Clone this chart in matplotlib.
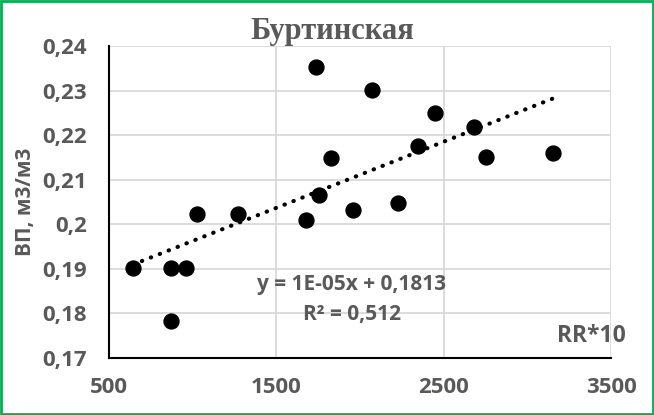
import numpy as np
import matplotlib
matplotlib.use("Agg")
import matplotlib.pyplot as plt

# ── Data ──────────────────────────────────────────────────────────
rr10 = [643, 871, 960, 871, 1026, 1271, 1677, 1755, 1737, 1827,
        1958, 2072, 2227, 2347, 2449, 2682, 2753, 3154]
vp = [0.1902, 0.1902, 0.1902, 0.1783, 0.2023, 0.2023, 0.2010, 0.2066,
      0.2353, 0.2149, 0.2032, 0.2301, 0.2048, 0.2176, 0.2250, 0.2218,
      0.2151, 0.2160]
x_ticks = [500, 1500, 2500, 3500]
y_ticks = [0.17, 0.18, 0.19, 0.20, 0.21, 0.22, 0.23, 0.24]
y_labels = ["0,17", "0,18", "0,19", "0,2", "0,21", "0,22", "0,23", "0,24"]
title = "Буртинская"
eq_text = "y = 1E-05x + 0,1813"
r2_text = "R² = 0,512"

GREY = "#595959"
SANS = ["Open Sans", "DejaVu Sans"]

fig = plt.figure(figsize=(6.54, 4.15), dpi=100)
ax = fig.add_axes([0.1667, 0.1373, 0.7676, 0.7517])

ax.scatter(rr10, vp, s=115, color="black", zorder=3)

# linear trend line over the data range
k, b = np.polyfit(rr10, vp, 1)
xs = np.array([min(rr10), max(rr10)])
ax.plot(xs, k * xs + b, color="black", lw=3.0, linestyle=(0, (0.1, 2.2)),
        dash_capstyle="round", zorder=2)

ax.set_xlim(500, 3500)
ax.set_ylim(0.17, 0.24)
ax.set_xticks(x_ticks)
ax.set_yticks(y_ticks)
ax.set_yticklabels(y_labels)
ax.grid(True, color="#D9D9D9", lw=1.3, zorder=0)
ax.set_axisbelow(True)
for s in ["top", "right"]:
    ax.spines[s].set_visible(False)
for s in ["left", "bottom"]:
    ax.spines[s].set_color("black")
    ax.spines[s].set_linewidth(1.5)
ax.tick_params(length=0, colors=GREY)
ax.tick_params(axis="x", pad=14)
ax.tick_params(axis="y", pad=16)
for lab in ax.get_xticklabels() + ax.get_yticklabels():
    lab.set_fontfamily(SANS)
    lab.set_fontweight("bold")
    lab.set_fontsize(16)

ax.set_ylabel("ВП, м3/м3", fontsize=15, fontweight="bold", color=GREY, family=SANS)
ax.yaxis.set_label_coords(-0.145, 0.5)
ax.text(3590, 0.1722, "RR*10", ha="right", va="bottom", fontsize=16.5,
        fontweight="bold", color=GREY, family=SANS, clip_on=False)
ax.text(1950, 0.1866, eq_text, ha="center", va="center", fontsize=15,
        fontweight="bold", color=GREY, family=SANS)
ax.text(1950, 0.1798, r2_text, ha="center", va="center", fontsize=15,
        fontweight="bold", color=GREY, family=SANS)

fig.text(0.508, 0.925, title, ha="center", va="center", fontsize=22,
         fontweight="bold", color=GREY, family=["Liberation Serif", "DejaVu Serif"])

# green frame around the chart
fig.patches.append(plt.Rectangle((0.002, 0.003), 0.996, 0.994, transform=fig.transFigure,
                                 fill=False, edgecolor="#00B050", lw=2))

fig.savefig("out.png", dpi=100)
